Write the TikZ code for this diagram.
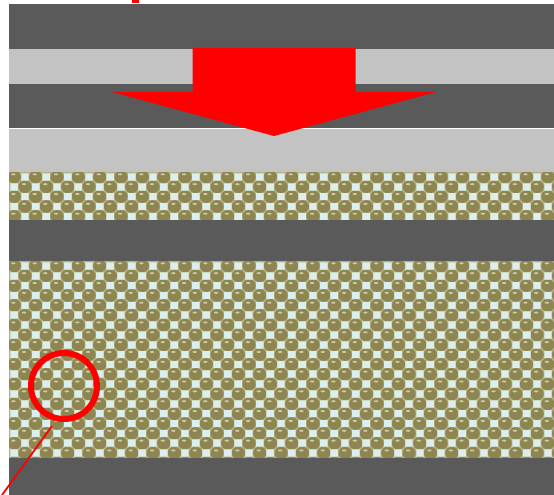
\documentclass[tikz,border=0pt]{standalone}
\definecolor{darkband}{HTML}{5A5A5A}
\definecolor{lightband}{HTML}{C3C3C3}
\definecolor{olivetile}{HTML}{8E8650}
\definecolor{olivebg}{HTML}{B4B08A}
\definecolor{tilecyan}{HTML}{DCEFF0}
\definecolor{tileedge}{HTML}{D2D8C0}
\definecolor{shine}{HTML}{CFCBA6}
\newcommand\mycheckband[3]{%
  \begin{scope}
    \clip (9,#1) rectangle (554,#2);
    \fill[olivebg] (9,#1) rectangle (554,#2);
    \foreach \i in {0,...,51}{
      \foreach \j in {0,...,#3}{
        \pgfmathsetmacro\cx{9+(\i+0.5)*10.67}
        \pgfmathsetmacro\cy{#1+(\j+0.5)*9.85}
        \pgfmathtruncatemacro\myparity{mod(\i+\j,2)}
        \ifnum\myparity=0
          \fill[olivetile] (\cx,\cy) ellipse[x radius=6.6,y radius=6.3];
          \fill[shine] (\cx-1,\cy-2.6) ellipse[x radius=2.2,y radius=1];
        \fi
      }
    }
    \foreach \i in {0,...,51}{
      \foreach \j in {0,...,#3}{
        \pgfmathsetmacro\cx{9+(\i+0.5)*10.67}
        \pgfmathsetmacro\cy{#1+(\j+0.5)*9.85}
        \pgfmathtruncatemacro\myparity{mod(\i+\j,2)}
        \ifnum\myparity=1
          \fill[tileedge] (\cx-4,\cy-3.8) rectangle (\cx+4,\cy+3.8);
          \fill[tilecyan] (\cx-3.3,\cy-3.2) rectangle (\cx+3.3,\cy+3.2);
        \fi
      }
    }
  \end{scope}}
\begin{document}
\begin{tikzpicture}[x=1pt,y=-1pt,
  darkb/.style={fill=darkband},
  lightb/.style={fill=lightband},
  redmark/.style={fill=red}]
\useasboundingbox (0,0) rectangle (554,495);
\fill[white] (0,0) rectangle (554,495);
% bands
\fill[darkb] (9,4) rectangle (554,49);
\fill[lightb] (9,49) rectangle (554,84);
\fill[darkb] (9,84) rectangle (554,128);
\fill[lightb] (9,129) rectangle (554,172);
\mycheckband{172}{220}{5}
\fill[darkb] (9,220) rectangle (554,261);
\mycheckband{261}{458}{20}
\fill[darkb] (9,458) rectangle (554,495);
% red fragment at top
\fill[redmark] (131.7,0) rectangle (139,3.5);
% big arrow
\fill[redmark] (192.5,48) -- (355.5,48) -- (355.5,92) -- (436,92) -- (274,136)
  -- (112,92) -- (192.5,92) -- cycle;
% circle and pointer
\coordinate (ringc) at (64,386);
\coordinate (lineend) at (2,495);
\draw[red,line width=6pt] (ringc) circle[radius=33];
\draw[red,line width=1.8pt] (52,426) -- (lineend);
\end{tikzpicture}
\end{document}
